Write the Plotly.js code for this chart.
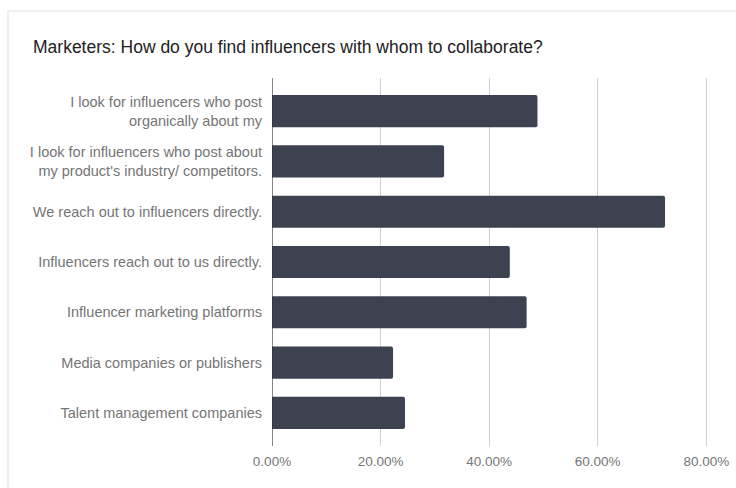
<!DOCTYPE html>
<html>
<head>
<meta charset="utf-8">
<script src="https://cdn.plot.ly/plotly-3.0.1.min.js"></script>
<style>
  html, body { margin: 0; padding: 0; background: #ffffff; }
  #wrap { position: relative; width: 736px; height: 488px; overflow: hidden; }
  #chart { position: absolute; left: 0; top: 0; width: 736px; height: 488px; }
  #frame { position: absolute; left: 7px; top: 10px; width: 740px; height: 490px;
           border-left: 2px solid #efefef; border-top: 2px solid #efefef; pointer-events: none; }
</style>
</head>
<body>
<div id="wrap">
  <div id="chart"></div>
  <div id="frame"></div>
</div>
<script>
const chartTitle = "Marketers: How do you find influencers with whom to collaborate?";
const categories = [
  "I look for influencers who post<br>organically about my",
  "I look for influencers who post about<br>my product's industry/ competitors.",
  "We reach out to influencers directly.",
  "Influencers reach out to us directly.",
  "Influencer marketing platforms",
  "Media companies or publishers",
  "Talent management companies"
];
const values = [0.489, 0.317, 0.724, 0.438, 0.469, 0.223, 0.245];
const xTickVals = [0, 0.2, 0.4, 0.6, 0.8];
const xTickText = ["0.00%", "20.00%", "40.00%", "60.00%", "80.00%"];

const trace = {
  type: "bar",
  orientation: "h",
  x: values,
  y: categories,
  width: 0.64,
  marker: { color: "#3d4250", cornerradius: 2 },
  hoverinfo: "x+y"
};

const W = 736, H = 488;
const plotL = 272, plotR = 734, plotT = 78, plotB = 446;

const layout = {
  width: W, height: H,
  paper_bgcolor: "rgba(0,0,0,0)",
  plot_bgcolor: "rgba(0,0,0,0)",
  margin: { l: plotL, r: W - plotR, t: plotT, b: H - plotB, pad: 0 },
  showlegend: false,
  font: { family: "Liberation Sans, Arial, sans-serif", color: "#757575", size: 14 },
  title: {
    text: chartTitle,
    font: { family: "Liberation Sans, Arial, sans-serif", size: 17.5, color: "#222222" },
    x: 33 / W, xref: "container", xanchor: "left",
    y: 1 - 47 / H, yref: "container", yanchor: "middle"
  },
  xaxis: {
    range: [0, 0.851],
    tickvals: xTickVals,
    ticktext: xTickText,
    showgrid: true,
    gridcolor: "#d0d0d0",
    gridwidth: 1,
    zeroline: false,
    showline: false,
    ticks: "",
    ticklen: 0,
    ticklabelstandoff: 5,
    tickfont: { size: 13.5, color: "#757575" },
    automargin: false
  },
  yaxis: {
    type: "category",
    range: [6.66, -0.66],
    showgrid: false,
    zeroline: false,
    showline: false,
    ticks: "",
    ticklabelstandoff: 9,
    tickfont: { size: 14.5, color: "#757575" },
    automargin: false
  },
  shapes: [
    {
      type: "line", xref: "x", yref: "paper",
      x0: 0, x1: 0, y0: 0, y1: 1,
      line: { color: "#333333", width: 1.2 }
    }
  ]
};

Plotly.newPlot("chart", [trace], layout, { displayModeBar: false, staticPlot: true });
</script>
</body>
</html>
